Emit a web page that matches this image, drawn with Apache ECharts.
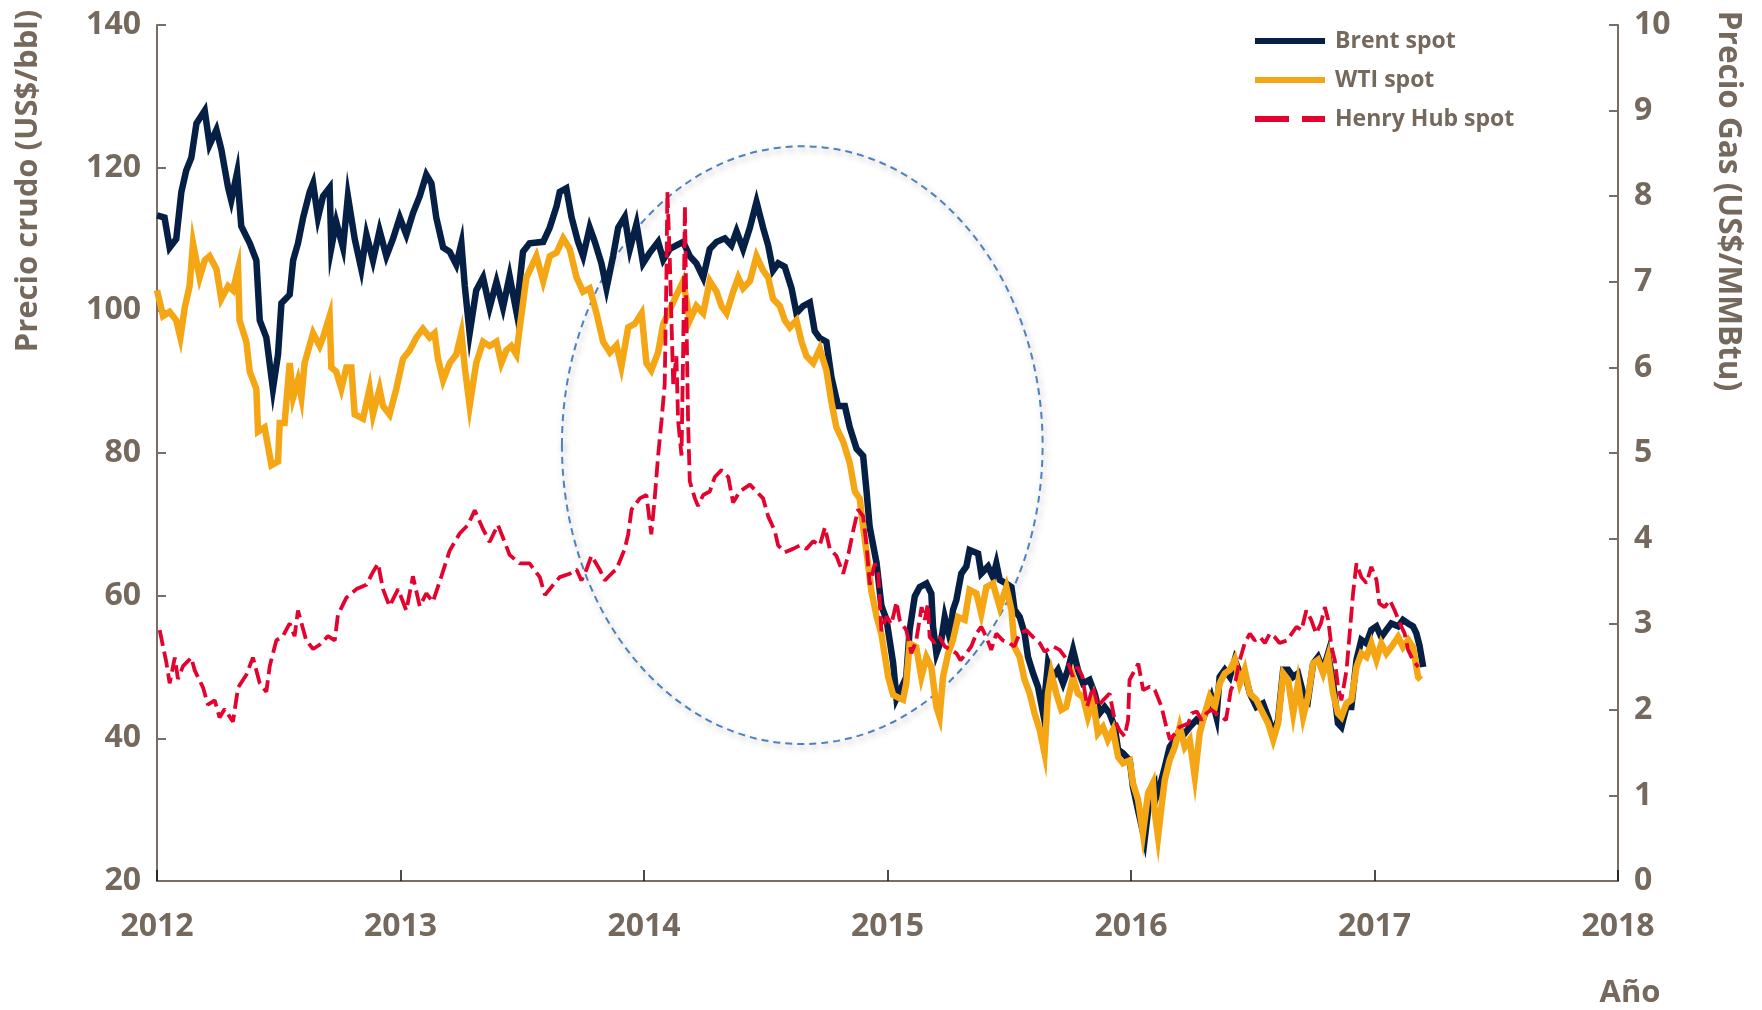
<!DOCTYPE html>
<html>
<head>
<meta charset="utf-8">
<script src="https://cdn.jsdelivr.net/npm/echarts@6/dist/echarts.min.js"></script>
<style>
  html, body { margin: 0; padding: 0; background: #fff; }
  #chart { width: 1762px; height: 1010px; }
</style>
</head>
<body>
<div id="chart"></div>
<script>
// decimal year, US$/bbl
const brentSpot = [
  [2012.000,113.3],[2012.031,113.0],[2012.052,108.8],[2012.079,110.0],[2012.100,116.6],[2012.120,119.6],[2012.141,121.4],[2012.162,126.2],
  [2012.196,128.0],[2012.216,123.2],[2012.244,125.3],[2012.264,122.6],[2012.292,117.2],[2012.305,115.4],[2012.329,119.3],[2012.346,111.8],
  [2012.381,109.4],[2012.408,107.0],[2012.422,98.6],[2012.449,96.2],[2012.476,89.0],[2012.497,93.8],[2012.511,101.0],[2012.545,102.2],
  [2012.559,107.0],[2012.579,109.4],[2012.600,113.0],[2012.627,116.6],[2012.641,117.8],[2012.661,113.0],[2012.682,116.0],[2012.709,117.2],
  [2012.716,108.8],[2012.736,112.4],[2012.764,108.8],[2012.784,116.0],[2012.812,110.0],[2012.839,105.8],[2012.860,110.6],[2012.887,107.0],
  [2012.914,111.2],[2012.942,107.6],[2012.969,110.0],[2012.997,113.0],[2013.024,110.6],[2013.051,113.6],[2013.079,116.0],[2013.106,119.0],
  [2013.127,117.8],[2013.147,113.0],[2013.175,108.8],[2013.202,108.2],[2013.229,106.4],[2013.250,109.4],[2013.264,103.4],[2013.284,96.8],
  [2013.311,102.8],[2013.339,104.6],[2013.366,100.4],[2013.394,104.0],[2013.421,100.4],[2013.448,104.8],[2013.476,99.8],[2013.503,108.2],
  [2013.530,109.4],[2013.586,109.6],[2013.613,111.6],[2013.641,114.6],[2013.654,116.6],[2013.681,117.1],[2013.702,113.1],[2013.729,109.6],
  [2013.750,107.6],[2013.777,111.6],[2013.798,109.6],[2013.825,106.6],[2013.846,103.1],[2013.873,107.6],[2013.894,111.6],[2013.921,113.1],
  [2013.942,108.6],[2013.969,112.1],[2013.996,106.6],[2014.024,108.1],[2014.058,109.6],[2014.079,107.1],[2014.106,108.6],[2014.133,109.1],
  [2014.161,109.6],[2014.188,107.6],[2014.215,106.6],[2014.243,104.6],[2014.270,108.6],[2014.298,109.6],[2014.332,110.1],[2014.359,109.1],
  [2014.380,111.1],[2014.407,108.6],[2014.435,111.6],[2014.462,115.2],[2014.489,111.6],[2014.510,109.1],[2014.530,105.6],[2014.551,106.6],
  [2014.578,106.1],[2014.606,103.1],[2014.626,99.6],[2014.653,100.6],[2014.681,101.1],[2014.701,97.1],[2014.722,96.1],[2014.749,95.6],
  [2014.770,90.6],[2014.797,86.6],[2014.825,86.6],[2014.845,83.6],[2014.873,80.6],[2014.900,79.6],[2014.914,74.6],[2014.927,69.6],
  [2014.955,64.6],[2014.975,58.6],[2014.996,56.6],[2015.023,50.6],[2015.037,45.6],[2015.064,47.6],[2015.077,48.6],[2015.091,55.2],
  [2015.112,59.9],[2015.132,61.2],[2015.160,61.7],[2015.180,60.3],[2015.187,55.7],[2015.201,51.9],[2015.221,53.8],[2015.235,57.0],
  [2015.255,54.2],[2015.269,58.0],[2015.283,59.4],[2015.303,63.1],[2015.324,64.1],[2015.337,66.4],[2015.372,65.9],[2015.385,63.1],
  [2015.413,64.1],[2015.433,62.6],[2015.447,64.5],[2015.461,62.2],[2015.488,61.7],[2015.509,61.2],[2015.522,58.0],[2015.543,57.0],
  [2015.563,54.7],[2015.577,51.4],[2015.598,49.1],[2015.618,47.2],[2015.639,43.5],[2015.659,50.5],[2015.680,48.6],[2015.700,49.6],
  [2015.721,47.7],[2015.741,49.6],[2015.762,52.4],[2015.782,49.6],[2015.803,47.7],[2015.830,48.2],[2015.851,46.3],[2015.871,43.5],
  [2015.892,44.4],[2015.912,43.5],[2015.933,41.6],[2015.947,38.4],[2015.967,37.9],[2015.995,36.9],[2016.008,33.2],[2016.029,29.9],
  [2016.056,25.8],[2016.077,31.8],[2016.097,33.2],[2016.100,31.4],[2016.118,33.2],[2016.139,36.0],[2016.159,38.8],[2016.180,39.8],
  [2016.200,41.2],[2016.221,40.7],[2016.241,41.6],[2016.269,42.6],[2016.289,42.1],[2016.310,44.0],[2016.330,45.8],[2016.351,43.0],
  [2016.364,48.6],[2016.385,49.6],[2016.406,48.6],[2016.426,51.0],[2016.447,49.1],[2016.467,49.1],[2016.488,46.3],[2016.515,44.4],
  [2016.542,44.9],[2016.563,43.0],[2016.584,40.7],[2016.604,42.6],[2016.625,49.6],[2016.645,49.6],[2016.666,48.6],[2016.686,49.1],
  [2016.707,46.3],[2016.727,45.4],[2016.748,50.5],[2016.768,51.4],[2016.789,49.6],[2016.809,51.9],[2016.830,47.7],[2016.850,42.1],
  [2016.864,41.6],[2016.885,44.4],[2016.905,44.4],[2016.926,51.0],[2016.946,53.8],[2016.967,53.3],[2016.987,55.2],[2017.008,55.7],
  [2017.028,54.2],[2017.049,55.2],[2017.069,56.1],[2017.097,55.7],[2017.117,56.6],[2017.138,56.1],[2017.158,55.7],[2017.172,54.7],
  [2017.185,53.0],[2017.200,50.0]
];

// decimal year, US$/bbl
const wtiSpot = [
  [2012.000,102.8],[2012.025,99.2],[2012.052,99.8],[2012.079,98.6],[2012.096,96.2],[2012.114,100.4],[2012.134,103.4],[2012.148,109.4],
  [2012.175,104.6],[2012.196,107.0],[2012.216,107.6],[2012.244,105.8],[2012.264,101.6],[2012.292,103.4],[2012.312,102.8],[2012.333,105.8],
  [2012.339,98.6],[2012.367,95.6],[2012.381,91.4],[2012.408,89.0],[2012.415,83.0],[2012.442,83.6],[2012.470,78.3],[2012.497,78.8],
  [2012.504,84.2],[2012.524,84.2],[2012.545,92.6],[2012.559,87.8],[2012.579,90.2],[2012.593,87.8],[2012.606,92.6],[2012.641,96.8],
  [2012.668,95.0],[2012.682,96.2],[2012.709,99.2],[2012.716,92.0],[2012.736,91.4],[2012.757,89.0],[2012.778,92.0],[2012.798,92.0],
  [2012.812,85.4],[2012.846,84.8],[2012.873,89.0],[2012.887,85.4],[2012.914,89.0],[2012.928,86.6],[2012.955,85.4],[2012.983,89.0],
  [2013.010,93.2],[2013.038,94.4],[2013.065,96.2],[2013.092,97.4],[2013.120,96.2],[2013.140,96.8],[2013.154,93.2],[2013.175,90.2],
  [2013.202,92.6],[2013.229,93.8],[2013.250,96.8],[2013.264,92.0],[2013.284,86.6],[2013.311,92.6],[2013.339,95.6],[2013.366,95.0],
  [2013.394,95.6],[2013.414,92.6],[2013.435,94.4],[2013.455,95.0],[2013.476,93.8],[2013.489,97.4],[2013.517,104.6],[2013.558,107.6],
  [2013.586,104.1],[2013.613,107.6],[2013.641,108.1],[2013.668,110.1],[2013.695,108.6],[2013.723,104.6],[2013.750,102.6],[2013.777,103.1],
  [2013.805,99.6],[2013.832,95.6],[2013.860,94.1],[2013.887,95.1],[2013.907,92.1],[2013.935,97.6],[2013.962,98.1],[2013.990,99.6],
  [2014.010,92.6],[2014.030,91.6],[2014.058,94.1],[2014.079,98.1],[2014.106,100.1],[2014.133,102.1],[2014.161,104.1],[2014.188,98.6],
  [2014.215,100.6],[2014.243,99.6],[2014.270,104.1],[2014.298,102.6],[2014.318,100.6],[2014.339,99.6],[2014.366,102.6],[2014.387,104.6],
  [2014.407,103.1],[2014.435,104.1],[2014.462,107.6],[2014.489,105.6],[2014.510,104.6],[2014.530,101.6],[2014.558,100.6],[2014.578,98.6],
  [2014.599,97.6],[2014.626,98.6],[2014.647,95.6],[2014.667,93.6],[2014.695,92.6],[2014.722,94.6],[2014.749,91.6],[2014.770,87.1],
  [2014.790,83.6],[2014.818,81.6],[2014.845,78.6],[2014.866,74.6],[2014.886,73.6],[2014.900,69.6],[2014.914,66.1],[2014.934,60.6],
  [2014.955,57.1],[2014.975,54.6],[2015.003,48.6],[2015.023,46.1],[2015.050,45.6],[2015.064,45.4],[2015.077,47.7],[2015.091,53.3],
  [2015.118,52.8],[2015.139,48.6],[2015.160,51.4],[2015.180,50.0],[2015.201,44.4],[2015.214,43.0],[2015.228,48.6],[2015.249,51.9],
  [2015.269,53.8],[2015.290,57.0],[2015.317,56.6],[2015.337,60.8],[2015.365,60.3],[2015.385,57.5],[2015.406,61.2],[2015.433,61.7],
  [2015.461,58.4],[2015.488,61.2],[2015.509,58.0],[2015.522,52.8],[2015.543,51.4],[2015.563,48.2],[2015.584,46.3],[2015.604,43.5],
  [2015.625,41.2],[2015.645,37.9],[2015.659,46.3],[2015.673,49.1],[2015.693,46.3],[2015.714,44.0],[2015.734,44.4],[2015.762,48.6],
  [2015.782,46.3],[2015.803,45.8],[2015.823,43.0],[2015.844,45.4],[2015.864,40.7],[2015.885,41.6],[2015.905,39.8],[2015.926,41.2],
  [2015.947,37.4],[2015.967,36.5],[2015.995,36.9],[2016.008,33.7],[2016.029,31.4],[2016.049,26.7],[2016.070,32.3],[2016.090,33.7],
  [2016.098,29.5],[2016.111,26.2],[2016.125,30.4],[2016.139,34.2],[2016.159,37.0],[2016.180,38.8],[2016.200,41.6],[2016.221,38.8],
  [2016.241,39.8],[2016.262,34.6],[2016.282,40.7],[2016.303,43.5],[2016.323,45.8],[2016.344,44.4],[2016.364,47.7],[2016.385,49.1],
  [2016.406,49.6],[2016.426,51.0],[2016.447,47.7],[2016.467,49.6],[2016.488,46.3],[2016.515,45.4],[2016.542,43.5],[2016.563,42.1],
  [2016.584,39.8],[2016.604,42.1],[2016.625,49.1],[2016.645,48.2],[2016.666,43.5],[2016.686,47.7],[2016.707,43.0],[2016.727,45.8],
  [2016.748,50.5],[2016.768,51.0],[2016.789,49.1],[2016.809,51.4],[2016.830,46.3],[2016.850,43.5],[2016.864,43.0],[2016.885,44.9],
  [2016.905,45.4],[2016.926,50.0],[2016.946,51.9],[2016.967,51.4],[2016.987,53.3],[2017.008,51.0],[2017.028,53.3],[2017.049,51.9],
  [2017.069,52.8],[2017.097,54.2],[2017.117,52.8],[2017.138,53.8],[2017.158,52.8],[2017.179,48.6],[2017.190,48.2]
];

// decimal year, US$/MMBtu
const henryHubSpot = [
  [2012.011,2.93],[2012.038,2.56],[2012.052,2.31],[2012.073,2.61],[2012.086,2.36],[2012.107,2.51],[2012.141,2.61],[2012.155,2.46],
  [2012.189,2.26],[2012.209,2.06],[2012.237,2.11],[2012.257,1.91],[2012.278,2.01],[2012.312,1.86],[2012.333,2.26],[2012.367,2.41],
  [2012.394,2.61],[2012.422,2.31],[2012.449,2.21],[2012.463,2.51],[2012.490,2.81],[2012.517,2.86],[2012.545,3.01],[2012.565,2.86],
  [2012.579,3.16],[2012.613,2.81],[2012.641,2.71],[2012.668,2.76],[2012.702,2.86],[2012.730,2.81],[2012.743,3.11],[2012.778,3.31],
  [2012.819,3.41],[2012.860,3.46],[2012.887,3.61],[2012.908,3.71],[2012.928,3.41],[2012.955,3.21],[2012.990,3.41],[2013.024,3.16],
  [2013.051,3.56],[2013.079,3.21],[2013.106,3.36],[2013.133,3.26],[2013.168,3.56],[2013.202,3.86],[2013.243,4.06],[2013.277,4.16],
  [2013.305,4.33],[2013.339,4.11],[2013.366,3.96],[2013.400,4.16],[2013.428,3.96],[2013.448,3.81],[2013.489,3.71],[2013.530,3.71],
  [2013.572,3.55],[2013.593,3.34],[2013.627,3.46],[2013.654,3.55],[2013.695,3.59],[2013.723,3.64],[2013.743,3.51],[2013.764,3.64],
  [2013.784,3.80],[2013.818,3.64],[2013.839,3.51],[2013.873,3.61],[2013.887,3.64],[2013.921,3.88],[2013.935,4.05],[2013.949,4.34],
  [2013.983,4.47],[2014.010,4.51],[2014.030,4.05],[2014.044,4.47],[2014.058,4.97],[2014.072,5.38],[2014.085,5.80],[2014.092,7.05],
  [2014.096,8.05],[2014.106,7.26],[2014.120,5.80],[2014.133,6.13],[2014.140,5.38],[2014.154,4.97],[2014.161,6.22],[2014.168,7.89],
  [2014.174,6.63],[2014.181,5.38],[2014.188,4.67],[2014.209,4.47],[2014.222,4.38],[2014.243,4.51],[2014.270,4.55],[2014.291,4.72],
  [2014.318,4.80],[2014.346,4.72],[2014.366,4.42],[2014.393,4.55],[2014.435,4.63],[2014.462,4.55],[2014.489,4.47],[2014.510,4.26],
  [2014.537,4.09],[2014.551,3.92],[2014.578,3.84],[2014.612,3.88],[2014.640,3.92],[2014.667,3.88],[2014.695,3.97],[2014.722,3.92],
  [2014.743,4.13],[2014.763,3.88],[2014.790,3.80],[2014.818,3.59],[2014.838,3.80],[2014.859,4.09],[2014.879,4.34],[2014.900,4.26],
  [2014.914,3.92],[2014.927,3.46],[2014.948,3.71],[2014.962,3.59],[2014.975,2.92],[2014.996,3.09],[2015.016,3.00],[2015.037,3.26],
  [2015.050,3.05],[2015.077,2.93],[2015.098,2.66],[2015.118,2.81],[2015.140,3.20],[2015.153,3.05],[2015.166,3.24],[2015.173,2.85],
  [2015.194,2.78],[2015.214,2.85],[2015.235,2.74],[2015.262,2.70],[2015.283,2.66],[2015.300,2.58],[2015.324,2.66],[2015.344,2.74],
  [2015.365,2.89],[2015.385,2.97],[2015.406,2.85],[2015.426,2.70],[2015.447,2.89],[2015.474,2.81],[2015.500,2.78],[2015.520,2.74],
  [2015.543,2.89],[2015.570,2.93],[2015.598,2.85],[2015.625,2.78],[2015.645,2.68],[2015.680,2.74],[2015.707,2.70],[2015.728,2.62],
  [2015.748,2.50],[2015.760,2.39],[2015.780,2.50],[2015.800,2.39],[2015.820,2.04],[2015.844,2.27],[2015.864,2.04],[2015.885,2.11],
  [2015.912,2.19],[2015.933,1.88],[2015.953,1.76],[2015.974,1.69],[2015.988,1.88],[2015.994,2.35],[2016.015,2.46],[2016.030,2.54],
  [2016.050,2.23],[2016.077,2.27],[2016.098,2.23],[2016.125,2.04],[2016.145,1.80],[2016.160,1.65],[2016.180,1.72],[2016.200,1.80],
  [2016.235,1.84],[2016.250,1.96],[2016.270,1.98],[2016.290,1.88],[2016.310,1.96],[2016.330,2.00],[2016.350,1.96],[2016.370,1.92],
  [2016.390,1.88],[2016.410,2.23],[2016.430,2.35],[2016.447,2.58],[2016.467,2.78],[2016.488,2.89],[2016.508,2.81],[2016.530,2.85],
  [2016.550,2.78],[2016.570,2.89],[2016.590,2.85],[2016.610,2.78],[2016.640,2.81],[2016.660,2.89],[2016.680,2.97],[2016.700,2.93],
  [2016.720,3.16],[2016.740,3.05],[2016.760,2.89],[2016.780,3.01],[2016.796,3.20],[2016.810,3.05],[2016.823,2.74],[2016.837,2.58],
  [2016.850,2.27],[2016.864,2.11],[2016.885,2.46],[2016.898,2.89],[2016.912,3.36],[2016.926,3.71],[2016.946,3.55],[2016.967,3.48],
  [2016.987,3.67],[2017.008,3.52],[2017.020,3.24],[2017.042,3.20],[2017.063,3.28],[2017.083,3.16],[2017.104,3.01],[2017.124,2.89],
  [2017.138,2.70],[2017.158,2.58],[2017.180,2.50]
];

const seriesNames = ['Brent spot', 'WTI spot', 'Henry Hub spot'];
// highlighted period: centre (year, US$/bbl) and half-axes
const focusCenter = [2014.65, 81.1];
const focusRadius = [0.987, 41.9];

const TEXT = '#75685c';
const AXIS = '#7a6d63';
const FONT = '"Open Sans", "DejaVu Sans", sans-serif';
const BRENT = '#061f44';
const WTI = '#f4a615';
const HH = '#e4032e';

const chart = echarts.init(document.getElementById('chart'), null, { renderer: 'canvas' });

const axisLabel = { color: TEXT, fontSize: 32, fontWeight: 'bold', fontFamily: FONT };

chart.setOption({
  animation: false,
  backgroundColor: '#fff',
  grid: { left: 157, right: 144, top: 25, bottom: 129, outerBoundsMode: 'none' },
  legend: {
    orient: 'vertical',
    left: 1250,
    top: 23,
    itemWidth: 70,
    itemHeight: 6,
    itemGap: 13,
    textStyle: { color: TEXT, fontSize: 23, fontWeight: 'bold', fontFamily: FONT, lineHeight: 26, padding: [0, 0, 0, 5] },
    data: [
      { name: seriesNames[0], icon: 'path://M0,0H70V6H0Z', itemStyle: { color: BRENT } },
      { name: seriesNames[1], icon: 'path://M0,0H70V6H0Z', itemStyle: { color: WTI } },
      { name: seriesNames[2], icon: 'path://M0,0H34V6H0Z M47,0H70V6H47Z', itemStyle: { color: HH } }
    ]
  },
  xAxis: {
    type: 'value', min: 2012, max: 2018, interval: 1,
    axisLine: { lineStyle: { color: AXIS, width: 2 } },
    axisTick: { inside: true, length: 11, lineStyle: { color: '#111', width: 1.5 } },
    splitLine: { show: false },
    axisLabel: Object.assign({ margin: 30, formatter: v => String(v) }, axisLabel)
  },
  yAxis: [
    {
      type: 'value', min: 20, max: 140, interval: 20,
      axisLine: { show: true, lineStyle: { color: AXIS, width: 2 } },
      axisTick: { show: true, inside: true, length: 9, lineStyle: { color: AXIS, width: 2 } },
      splitLine: { show: false },
      axisLabel: Object.assign({ margin: 16 }, axisLabel)
    },
    {
      type: 'value', min: 0, max: 10, interval: 1, position: 'right',
      axisLine: { show: true, lineStyle: { color: AXIS, width: 2 } },
      axisTick: { show: true, inside: true, length: 9, lineStyle: { color: AXIS, width: 2 } },
      splitLine: { show: false },
      axisLabel: Object.assign({ margin: 16 }, axisLabel)
    }
  ],
  series: [
    {
      name: seriesNames[0], type: 'line', data: brentSpot, yAxisIndex: 0,
      symbol: 'none', color: BRENT,
      lineStyle: { width: 6.5, color: BRENT, join: 'miter' }
    },
    {
      name: seriesNames[1], type: 'line', data: wtiSpot, yAxisIndex: 0,
      symbol: 'none', color: WTI,
      lineStyle: { width: 6.5, color: WTI, join: 'miter' }
    },
    {
      name: seriesNames[2], type: 'line', data: henryHubSpot, yAxisIndex: 1,
      symbol: 'none', color: HH,
      lineStyle: { width: 3.8, color: HH, type: [16, 6] }
    }
  ]
});

// dashed ellipse around the 2014-2015 drop, placed through the axes
const c = chart.convertToPixel({ xAxisIndex: 0, yAxisIndex: 0 }, focusCenter);
const e = chart.convertToPixel({ xAxisIndex: 0, yAxisIndex: 0 },
  [focusCenter[0] + focusRadius[0], focusCenter[1] + focusRadius[1]]);

chart.setOption({
  graphic: [
    {
      type: 'ellipse', z: 1, silent: true,
      shape: { cx: c[0], cy: c[1], rx: e[0] - c[0], ry: c[1] - e[1] },
      style: {
        fill: null, stroke: '#4f81bd', lineWidth: 2, lineDash: [7, 5],
        shadowBlur: 6, shadowColor: 'rgba(0,0,0,0.35)', shadowOffsetX: 2, shadowOffsetY: 3
      }
    },
    {
      type: 'text', x: 28, y: 181, rotation: Math.PI / 2,
      style: { text: 'Precio crudo (US$/bbl)', fill: TEXT, font: 'bold 31px ' + FONT, align: 'center', verticalAlign: 'middle' }
    },
    {
      type: 'text', x: 1728, y: 201, rotation: -Math.PI / 2,
      style: { text: 'Precio Gas (US$/MMBtu)', fill: TEXT, font: 'bold 31.5px ' + FONT, align: 'center', verticalAlign: 'middle' }
    },
    {
      type: 'text', x: 1630, y: 993,
      style: { text: 'Año', fill: TEXT, font: 'bold 31px ' + FONT, align: 'center', verticalAlign: 'middle' }
    }
  ]
});
</script>
</body>
</html>
